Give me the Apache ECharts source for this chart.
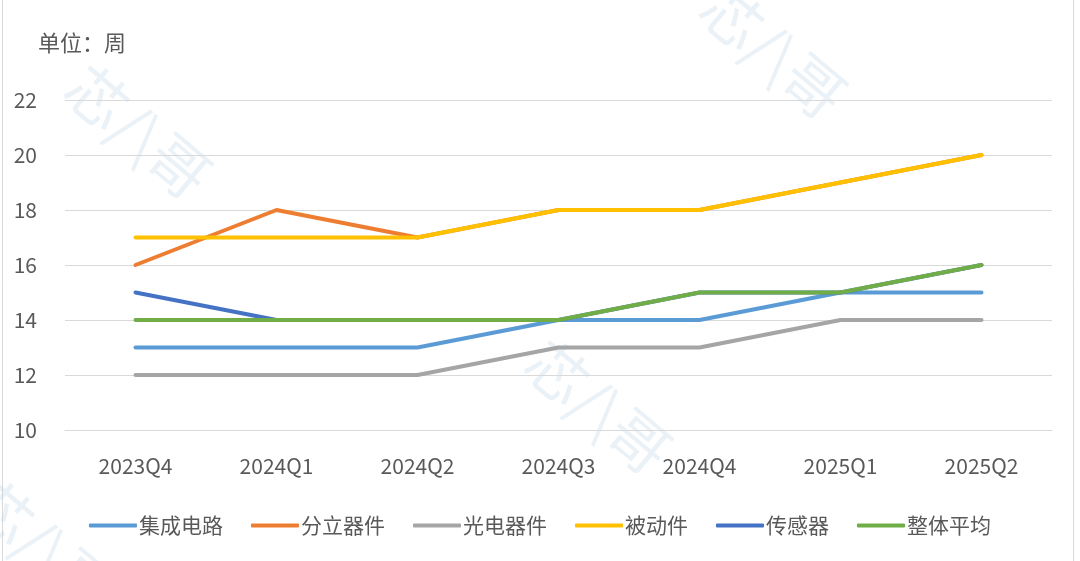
<!DOCTYPE html>
<html><head><meta charset="utf-8">
<script src="https://cdn.jsdelivr.net/npm/echarts@6/dist/echarts.min.js"></script>
<style>html,body{margin:0;padding:0;background:#fff}#c{width:1080px;height:561px}</style>
</head><body><div id="c"></div>
<script>
const categories = ['2023Q4','2024Q1','2024Q2','2024Q3','2024Q4','2025Q1','2025Q2'];
const seriesNames = ['集成电路','分立器件','光电器件','被动件','传感器','整体平均'];
const icValues = [13,13,13,14,14,15,15];
const discreteValues = [16,18,17,18,18,19,20];
const optoValues = [12,12,12,13,13,14,14];
const passiveValues = [17,17,17,18,18,19,20];
const sensorValues = [15,14,14,14,15,15,16];
const avgValues = [14,14,14,14,15,15,16];
const yTicks = [10,12,14,16,18,20,22];
const colors = ['#5B9BD5','#ED7D31','#A5A5A5','#FFC000','#4472C4','#70AD47'];
const allValues = [icValues, discreteValues, optoValues, passiveValues, sensorValues, avgValues];

const chart = echarts.init(document.getElementById('c'), null, {renderer:'canvas'});
const wm = (x,y) => ({type:'text', left:x, top:y, rotation:-0.7, z:-10, silent:true,
  style:{text:'芯/\\哥', fontSize:60, fill:'rgba(185,208,230,0.3)', fontFamily:'Noto Sans CJK SC'}});
chart.setOption({
  backgroundColor:'#fff',
  color: colors,
  textStyle:{fontFamily:'"Noto Sans CJK SC", "Noto Sans", sans-serif'},
  title:{text:'单位：周', left:33, top:27, textStyle:{fontSize:22, fontWeight:'normal', color:'#595959', fontFamily:'"Noto Sans CJK SC"'}},
  graphic:[
    {type:'rect', shape:{x:2.5,y:-5,width:1071,height:580}, style:{fill:'none', stroke:'#d9d9d9', lineWidth:1}, silent:true, z:-20},
    wm(55,55), wm(690,-25), wm(515,330), wm(-40,470)
  ],
  grid:{left:65, right:28, top:100, bottom:131, containLabel:false},
  legend:{bottom:20, left:'center', itemWidth:48, itemHeight:4, itemGap:28,
    icon:'roundRect',
    textStyle:{fontSize:21, color:'#595959', fontFamily:'"Noto Sans CJK SC"', padding:[0,0,0,-3]},
    data: seriesNames},
  xAxis:{type:'category', data:categories, boundaryGap:true,
    axisLine:{show:true, lineStyle:{color:'#d9d9d9', width:1}},
    axisTick:{show:false},
    axisLabel:{fontSize:21, color:'#595959', margin:26, fontFamily:'"Noto Sans CJK SC"'}},
  yAxis:{type:'value', min:yTicks[0], max:yTicks[yTicks.length-1], interval:2,
    axisLine:{show:false}, axisTick:{show:false},
    splitLine:{lineStyle:{color:'#d9d9d9', width:1}},
    axisLabel:{fontSize:21, color:'#595959', margin:28, fontFamily:'"Noto Sans CJK SC"'}},
  series: seriesNames.map((n,i)=>({
    name:n, type:'line', data:allValues[i], symbol:'none', smooth:false,
    lineStyle:{width:4, color:colors[i], cap:'round'}, itemStyle:{color:colors[i]}
  }))
});
</script></body></html>
